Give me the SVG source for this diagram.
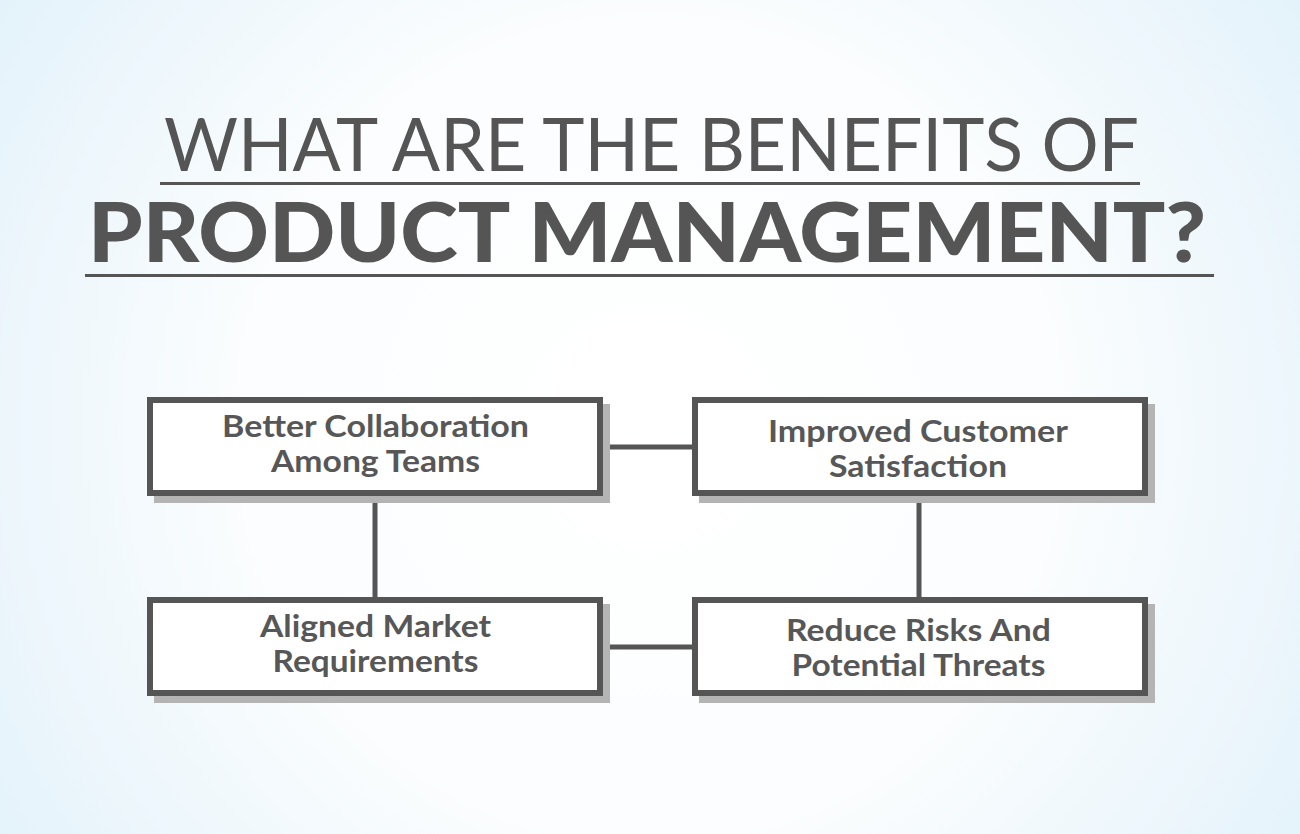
<svg xmlns="http://www.w3.org/2000/svg" width="1300" height="834" viewBox="0 0 1300 834">
  <defs>
    <radialGradient id="bg" cx="650" cy="430" r="820" gradientUnits="userSpaceOnUse">
      <stop offset="0" stop-color="#ffffff"/>
      <stop offset="0.5" stop-color="#fbfdfe"/>
      <stop offset="1" stop-color="#e1f1fa"/>
    </radialGradient>
  </defs>
  <style>
    .title1 { font-family: Lato, "Liberation Sans", sans-serif; font-weight: 400; font-size: 74px; fill: #555555; }
    .title2 { font-family: Lato, "Liberation Sans", sans-serif; font-weight: 900; font-size: 82px; fill: #555555; }
    .rule { stroke: #555555; }
    .shadow { fill: #b4b4b4; }
    .box { fill: #ffffff; stroke: #555555; stroke-width: 6; }
    .label { font-family: Lato, "Liberation Sans", sans-serif; font-weight: 700; font-size: 30px; fill: #575757; text-anchor: middle; }
    .conn { stroke: #555555; stroke-width: 5; fill: none; }
  </style>
  <rect x="0" y="0" width="1300" height="834" fill="url(#bg)"/>

  <g id="title">
    <text class="title1" x="164" y="171" textLength="975" lengthAdjust="spacingAndGlyphs">WHAT ARE THE BENEFITS OF</text>
    <line class="rule" x1="160" y1="183.5" x2="1140" y2="183.5" stroke-width="3"/>
    <text class="title2" x="88" y="262" textLength="1118" lengthAdjust="spacingAndGlyphs">PRODUCT MANAGEMENT?</text>
    <line class="rule" x1="85" y1="275.5" x2="1214" y2="275.5" stroke-width="3"/>
  </g>

  <g id="connectors">
    <line class="conn" x1="603" y1="447" x2="692" y2="447"/>
    <line class="conn" x1="375" y1="496" x2="375" y2="597"/>
    <line class="conn" x1="919" y1="496" x2="919" y2="597"/>
    <line class="conn" x1="603" y1="647" x2="692" y2="647"/>
  </g>

  <g id="node-collaboration">
    <rect class="shadow" x="154" y="404" width="456" height="99"/>
    <rect class="box" x="150" y="400" width="450" height="93"/>
    <text class="label" x="375.5" y="437" textLength="307" lengthAdjust="spacingAndGlyphs">Better Collaboration</text>
    <text class="label" x="375.5" y="472" textLength="209" lengthAdjust="spacingAndGlyphs">Among Teams</text>
  </g>

  <g id="node-satisfaction">
    <rect class="shadow" x="699" y="404" width="456" height="99"/>
    <rect class="box" x="695" y="400" width="450" height="93"/>
    <text class="label" x="918" y="442" textLength="300" lengthAdjust="spacingAndGlyphs">Improved Customer</text>
    <text class="label" x="918" y="477" textLength="178" lengthAdjust="spacingAndGlyphs">Satisfaction</text>
  </g>

  <g id="node-market">
    <rect class="shadow" x="154" y="604" width="456" height="99"/>
    <rect class="box" x="150" y="600" width="450" height="93"/>
    <text class="label" x="375.5" y="637" textLength="231" lengthAdjust="spacingAndGlyphs">Aligned Market</text>
    <text class="label" x="375.5" y="672" textLength="206" lengthAdjust="spacingAndGlyphs">Requirements</text>
  </g>

  <g id="node-risks">
    <rect class="shadow" x="699" y="604" width="456" height="99"/>
    <rect class="box" x="695" y="600" width="450" height="93"/>
    <text class="label" x="918.5" y="641" textLength="265" lengthAdjust="spacingAndGlyphs">Reduce Risks And</text>
    <text class="label" x="918.5" y="676" textLength="254" lengthAdjust="spacingAndGlyphs">Potential Threats</text>
  </g>
</svg>
